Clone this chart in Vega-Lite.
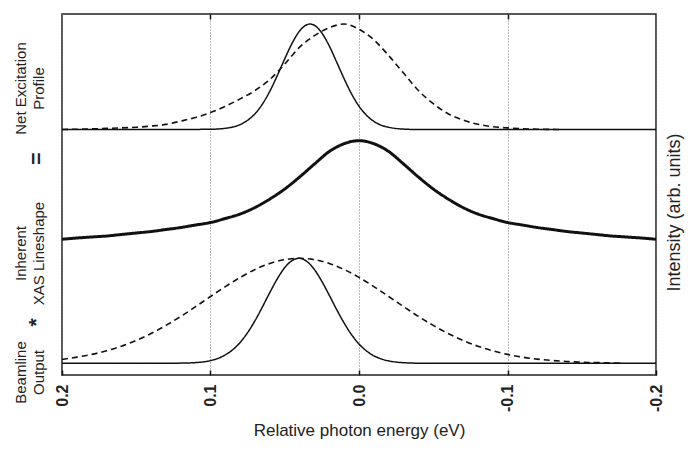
{
  "$schema": "https://vega.github.io/schema/vega-lite/v6.json",
  "width": 594,
  "height": 361,
  "autosize": {"type": "none"},
  "padding": {"left": 62, "top": 14, "right": 32, "bottom": 76},
  "background": "white",
  "config": {
    "font": "Liberation Sans",
    "view": {"stroke": "#222", "strokeWidth": 1.5}
  },
  "data": {
    "values": [
      {"energy": 0.2, "intensity": 245.5, "series": "Net excitation, narrow"},
      {"energy": 0.18, "intensity": 245.5, "series": "Net excitation, narrow"},
      {"energy": 0.16, "intensity": 245.5, "series": "Net excitation, narrow"},
      {"energy": 0.14, "intensity": 245.5, "series": "Net excitation, narrow"},
      {"energy": 0.12, "intensity": 245.5, "series": "Net excitation, narrow"},
      {"energy": 0.11, "intensity": 245.6, "series": "Net excitation, narrow"},
      {"energy": 0.1, "intensity": 245.7, "series": "Net excitation, narrow"},
      {"energy": 0.095, "intensity": 246.0, "series": "Net excitation, narrow"},
      {"energy": 0.09, "intensity": 246.7, "series": "Net excitation, narrow"},
      {"energy": 0.085, "intensity": 248.0, "series": "Net excitation, narrow"},
      {"energy": 0.08, "intensity": 250.4, "series": "Net excitation, narrow"},
      {"energy": 0.075, "intensity": 254.7, "series": "Net excitation, narrow"},
      {"energy": 0.07, "intensity": 261.3, "series": "Net excitation, narrow"},
      {"energy": 0.065, "intensity": 271.0, "series": "Net excitation, narrow"},
      {"energy": 0.06, "intensity": 283.9, "series": "Net excitation, narrow"},
      {"energy": 0.055, "intensity": 299.5, "series": "Net excitation, narrow"},
      {"energy": 0.05, "intensity": 316.2, "series": "Net excitation, narrow"},
      {"energy": 0.045, "intensity": 331.9, "series": "Net excitation, narrow"},
      {"energy": 0.04, "intensity": 344.0, "series": "Net excitation, narrow"},
      {"energy": 0.036, "intensity": 349.6, "series": "Net excitation, narrow"},
      {"energy": 0.033, "intensity": 351.0, "series": "Net excitation, narrow"},
      {"energy": 0.03, "intensity": 349.7, "series": "Net excitation, narrow"},
      {"energy": 0.025, "intensity": 342.0, "series": "Net excitation, narrow"},
      {"energy": 0.02, "intensity": 329.0, "series": "Net excitation, narrow"},
      {"energy": 0.015, "intensity": 312.8, "series": "Net excitation, narrow"},
      {"energy": 0.01, "intensity": 296.2, "series": "Net excitation, narrow"},
      {"energy": 0.005, "intensity": 281.1, "series": "Net excitation, narrow"},
      {"energy": 0.0, "intensity": 268.8, "series": "Net excitation, narrow"},
      {"energy": -0.005, "intensity": 259.8, "series": "Net excitation, narrow"},
      {"energy": -0.01, "intensity": 253.6, "series": "Net excitation, narrow"},
      {"energy": -0.015, "intensity": 249.8, "series": "Net excitation, narrow"},
      {"energy": -0.02, "intensity": 247.7, "series": "Net excitation, narrow"},
      {"energy": -0.025, "intensity": 246.5, "series": "Net excitation, narrow"},
      {"energy": -0.03, "intensity": 245.9, "series": "Net excitation, narrow"},
      {"energy": -0.035, "intensity": 245.6, "series": "Net excitation, narrow"},
      {"energy": -0.04, "intensity": 245.5, "series": "Net excitation, narrow"},
      {"energy": -0.08, "intensity": 245.5, "series": "Net excitation, narrow"},
      {"energy": -0.12, "intensity": 245.5, "series": "Net excitation, narrow"},
      {"energy": -0.16, "intensity": 245.5, "series": "Net excitation, narrow"},
      {"energy": -0.2, "intensity": 245.5, "series": "Net excitation, narrow"},

      {"energy": 0.2, "intensity": 245.5, "series": "Net excitation, broad"},
      {"energy": 0.19, "intensity": 245.8, "series": "Net excitation, broad"},
      {"energy": 0.18, "intensity": 246.1, "series": "Net excitation, broad"},
      {"energy": 0.17, "intensity": 246.6, "series": "Net excitation, broad"},
      {"energy": 0.16, "intensity": 247.1, "series": "Net excitation, broad"},
      {"energy": 0.15, "intensity": 247.8, "series": "Net excitation, broad"},
      {"energy": 0.14, "intensity": 248.9, "series": "Net excitation, broad"},
      {"energy": 0.13, "intensity": 250.6, "series": "Net excitation, broad"},
      {"energy": 0.12, "intensity": 253.9, "series": "Net excitation, broad"},
      {"energy": 0.11, "intensity": 257.6, "series": "Net excitation, broad"},
      {"energy": 0.1, "intensity": 262.4, "series": "Net excitation, broad"},
      {"energy": 0.09, "intensity": 268.7, "series": "Net excitation, broad"},
      {"energy": 0.08, "intensity": 276.1, "series": "Net excitation, broad"},
      {"energy": 0.07, "intensity": 284.5, "series": "Net excitation, broad"},
      {"energy": 0.06, "intensity": 295.6, "series": "Net excitation, broad"},
      {"energy": 0.05, "intensity": 310.9, "series": "Net excitation, broad"},
      {"energy": 0.04, "intensity": 327.8, "series": "Net excitation, broad"},
      {"energy": 0.03, "intensity": 339.4, "series": "Net excitation, broad"},
      {"energy": 0.02, "intensity": 347.3, "series": "Net excitation, broad"},
      {"energy": 0.01, "intensity": 351.0, "series": "Net excitation, broad"},
      {"energy": 0.0, "intensity": 345.7, "series": "Net excitation, broad"},
      {"energy": -0.01, "intensity": 335.2, "series": "Net excitation, broad"},
      {"energy": -0.02, "intensity": 319.4, "series": "Net excitation, broad"},
      {"energy": -0.03, "intensity": 301.9, "series": "Net excitation, broad"},
      {"energy": -0.04, "intensity": 284.5, "series": "Net excitation, broad"},
      {"energy": -0.05, "intensity": 271.3, "series": "Net excitation, broad"},
      {"energy": -0.06, "intensity": 261.3, "series": "Net excitation, broad"},
      {"energy": -0.07, "intensity": 255.0, "series": "Net excitation, broad"},
      {"energy": -0.08, "intensity": 250.8, "series": "Net excitation, broad"},
      {"energy": -0.09, "intensity": 248.3, "series": "Net excitation, broad"},
      {"energy": -0.1, "intensity": 247.1, "series": "Net excitation, broad"},
      {"energy": -0.11, "intensity": 246.2, "series": "Net excitation, broad"},
      {"energy": -0.12, "intensity": 245.8, "series": "Net excitation, broad"},
      {"energy": -0.13, "intensity": 245.6, "series": "Net excitation, broad"},
      {"energy": -0.135, "intensity": 245.5, "series": "Net excitation, broad"},

      {"energy": 0.2, "intensity": 135.7, "series": "Inherent XAS lineshape"},
      {"energy": 0.19, "intensity": 137.0, "series": "Inherent XAS lineshape"},
      {"energy": 0.18, "intensity": 138.0, "series": "Inherent XAS lineshape"},
      {"energy": 0.17, "intensity": 139.0, "series": "Inherent XAS lineshape"},
      {"energy": 0.16, "intensity": 140.5, "series": "Inherent XAS lineshape"},
      {"energy": 0.15, "intensity": 142.0, "series": "Inherent XAS lineshape"},
      {"energy": 0.14, "intensity": 143.5, "series": "Inherent XAS lineshape"},
      {"energy": 0.13, "intensity": 145.5, "series": "Inherent XAS lineshape"},
      {"energy": 0.12, "intensity": 147.5, "series": "Inherent XAS lineshape"},
      {"energy": 0.11, "intensity": 150.0, "series": "Inherent XAS lineshape"},
      {"energy": 0.1, "intensity": 152.5, "series": "Inherent XAS lineshape"},
      {"energy": 0.09, "intensity": 156.5, "series": "Inherent XAS lineshape"},
      {"energy": 0.08, "intensity": 161.0, "series": "Inherent XAS lineshape"},
      {"energy": 0.07, "intensity": 167.5, "series": "Inherent XAS lineshape"},
      {"energy": 0.06, "intensity": 176.0, "series": "Inherent XAS lineshape"},
      {"energy": 0.05, "intensity": 186.0, "series": "Inherent XAS lineshape"},
      {"energy": 0.04, "intensity": 198.0, "series": "Inherent XAS lineshape"},
      {"energy": 0.03, "intensity": 211.0, "series": "Inherent XAS lineshape"},
      {"energy": 0.02, "intensity": 223.5, "series": "Inherent XAS lineshape"},
      {"energy": 0.01, "intensity": 231.3, "series": "Inherent XAS lineshape"},
      {"energy": 0.005, "intensity": 233.5, "series": "Inherent XAS lineshape"},
      {"energy": 0.0, "intensity": 234.3, "series": "Inherent XAS lineshape"},
      {"energy": -0.005, "intensity": 233.5, "series": "Inherent XAS lineshape"},
      {"energy": -0.01, "intensity": 231.3, "series": "Inherent XAS lineshape"},
      {"energy": -0.02, "intensity": 223.5, "series": "Inherent XAS lineshape"},
      {"energy": -0.03, "intensity": 211.0, "series": "Inherent XAS lineshape"},
      {"energy": -0.04, "intensity": 198.0, "series": "Inherent XAS lineshape"},
      {"energy": -0.05, "intensity": 186.0, "series": "Inherent XAS lineshape"},
      {"energy": -0.06, "intensity": 176.0, "series": "Inherent XAS lineshape"},
      {"energy": -0.07, "intensity": 167.5, "series": "Inherent XAS lineshape"},
      {"energy": -0.08, "intensity": 161.0, "series": "Inherent XAS lineshape"},
      {"energy": -0.09, "intensity": 156.5, "series": "Inherent XAS lineshape"},
      {"energy": -0.1, "intensity": 152.5, "series": "Inherent XAS lineshape"},
      {"energy": -0.11, "intensity": 150.0, "series": "Inherent XAS lineshape"},
      {"energy": -0.12, "intensity": 147.5, "series": "Inherent XAS lineshape"},
      {"energy": -0.13, "intensity": 145.5, "series": "Inherent XAS lineshape"},
      {"energy": -0.14, "intensity": 143.5, "series": "Inherent XAS lineshape"},
      {"energy": -0.15, "intensity": 142.0, "series": "Inherent XAS lineshape"},
      {"energy": -0.16, "intensity": 140.5, "series": "Inherent XAS lineshape"},
      {"energy": -0.17, "intensity": 139.0, "series": "Inherent XAS lineshape"},
      {"energy": -0.18, "intensity": 138.0, "series": "Inherent XAS lineshape"},
      {"energy": -0.19, "intensity": 137.0, "series": "Inherent XAS lineshape"},
      {"energy": -0.2, "intensity": 135.7, "series": "Inherent XAS lineshape"},

      {"energy": 0.2, "intensity": 11.7, "series": "Beamline output, narrow"},
      {"energy": 0.16, "intensity": 11.7, "series": "Beamline output, narrow"},
      {"energy": 0.13, "intensity": 11.7, "series": "Beamline output, narrow"},
      {"energy": 0.12, "intensity": 11.9, "series": "Beamline output, narrow"},
      {"energy": 0.11, "intensity": 12.4, "series": "Beamline output, narrow"},
      {"energy": 0.1, "intensity": 14.4, "series": "Beamline output, narrow"},
      {"energy": 0.095, "intensity": 16.6, "series": "Beamline output, narrow"},
      {"energy": 0.09, "intensity": 20.1, "series": "Beamline output, narrow"},
      {"energy": 0.085, "intensity": 25.3, "series": "Beamline output, narrow"},
      {"energy": 0.08, "intensity": 32.6, "series": "Beamline output, narrow"},
      {"energy": 0.075, "intensity": 42.4, "series": "Beamline output, narrow"},
      {"energy": 0.07, "intensity": 54.4, "series": "Beamline output, narrow"},
      {"energy": 0.065, "intensity": 68.2, "series": "Beamline output, narrow"},
      {"energy": 0.06, "intensity": 82.6, "series": "Beamline output, narrow"},
      {"energy": 0.055, "intensity": 96.2, "series": "Beamline output, narrow"},
      {"energy": 0.05, "intensity": 107.4, "series": "Beamline output, narrow"},
      {"energy": 0.045, "intensity": 114.5, "series": "Beamline output, narrow"},
      {"energy": 0.0405, "intensity": 116.7, "series": "Beamline output, narrow"},
      {"energy": 0.035, "intensity": 113.5, "series": "Beamline output, narrow"},
      {"energy": 0.03, "intensity": 105.4, "series": "Beamline output, narrow"},
      {"energy": 0.025, "intensity": 93.6, "series": "Beamline output, narrow"},
      {"energy": 0.02, "intensity": 79.7, "series": "Beamline output, narrow"},
      {"energy": 0.015, "intensity": 65.3, "series": "Beamline output, narrow"},
      {"energy": 0.01, "intensity": 51.9, "series": "Beamline output, narrow"},
      {"energy": 0.005, "intensity": 40.3, "series": "Beamline output, narrow"},
      {"energy": 0.0, "intensity": 31.0, "series": "Beamline output, narrow"},
      {"energy": -0.005, "intensity": 24.1, "series": "Beamline output, narrow"},
      {"energy": -0.01, "intensity": 19.2, "series": "Beamline output, narrow"},
      {"energy": -0.015, "intensity": 16.1, "series": "Beamline output, narrow"},
      {"energy": -0.02, "intensity": 14.1, "series": "Beamline output, narrow"},
      {"energy": -0.025, "intensity": 12.9, "series": "Beamline output, narrow"},
      {"energy": -0.03, "intensity": 12.3, "series": "Beamline output, narrow"},
      {"energy": -0.04, "intensity": 11.8, "series": "Beamline output, narrow"},
      {"energy": -0.05, "intensity": 11.7, "series": "Beamline output, narrow"},
      {"energy": -0.1, "intensity": 11.7, "series": "Beamline output, narrow"},
      {"energy": -0.15, "intensity": 11.7, "series": "Beamline output, narrow"},
      {"energy": -0.2, "intensity": 11.7, "series": "Beamline output, narrow"},

      {"energy": 0.2, "intensity": 15.5, "series": "Beamline output, broad"},
      {"energy": 0.19, "intensity": 17.9, "series": "Beamline output, broad"},
      {"energy": 0.18, "intensity": 20.6, "series": "Beamline output, broad"},
      {"energy": 0.17, "intensity": 24.2, "series": "Beamline output, broad"},
      {"energy": 0.16, "intensity": 28.8, "series": "Beamline output, broad"},
      {"energy": 0.15, "intensity": 34.6, "series": "Beamline output, broad"},
      {"energy": 0.14, "intensity": 41.5, "series": "Beamline output, broad"},
      {"energy": 0.13, "intensity": 49.6, "series": "Beamline output, broad"},
      {"energy": 0.12, "intensity": 58.6, "series": "Beamline output, broad"},
      {"energy": 0.11, "intensity": 68.4, "series": "Beamline output, broad"},
      {"energy": 0.1, "intensity": 78.5, "series": "Beamline output, broad"},
      {"energy": 0.09, "intensity": 88.4, "series": "Beamline output, broad"},
      {"energy": 0.08, "intensity": 97.6, "series": "Beamline output, broad"},
      {"energy": 0.07, "intensity": 105.5, "series": "Beamline output, broad"},
      {"energy": 0.06, "intensity": 111.6, "series": "Beamline output, broad"},
      {"energy": 0.05, "intensity": 115.3, "series": "Beamline output, broad"},
      {"energy": 0.04, "intensity": 116.7, "series": "Beamline output, broad"},
      {"energy": 0.03, "intensity": 115.3, "series": "Beamline output, broad"},
      {"energy": 0.02, "intensity": 111.6, "series": "Beamline output, broad"},
      {"energy": 0.01, "intensity": 105.5, "series": "Beamline output, broad"},
      {"energy": 0.0, "intensity": 97.6, "series": "Beamline output, broad"},
      {"energy": -0.01, "intensity": 88.4, "series": "Beamline output, broad"},
      {"energy": -0.02, "intensity": 78.5, "series": "Beamline output, broad"},
      {"energy": -0.03, "intensity": 68.4, "series": "Beamline output, broad"},
      {"energy": -0.04, "intensity": 58.6, "series": "Beamline output, broad"},
      {"energy": -0.05, "intensity": 49.6, "series": "Beamline output, broad"},
      {"energy": -0.06, "intensity": 41.5, "series": "Beamline output, broad"},
      {"energy": -0.07, "intensity": 34.6, "series": "Beamline output, broad"},
      {"energy": -0.08, "intensity": 28.8, "series": "Beamline output, broad"},
      {"energy": -0.09, "intensity": 24.2, "series": "Beamline output, broad"},
      {"energy": -0.1, "intensity": 20.6, "series": "Beamline output, broad"},
      {"energy": -0.11, "intensity": 17.9, "series": "Beamline output, broad"},
      {"energy": -0.12, "intensity": 15.9, "series": "Beamline output, broad"},
      {"energy": -0.13, "intensity": 14.5, "series": "Beamline output, broad"},
      {"energy": -0.14, "intensity": 13.5, "series": "Beamline output, broad"},
      {"energy": -0.15, "intensity": 12.8, "series": "Beamline output, broad"},
      {"energy": -0.16, "intensity": 12.4, "series": "Beamline output, broad"},
      {"energy": -0.17, "intensity": 12.1, "series": "Beamline output, broad"},
      {"energy": -0.176, "intensity": 12.0, "series": "Beamline output, broad"}
    ]
  },
  "encoding": {
    "strokeDash": {
      "field": "series",
      "type": "nominal",
      "scale": {
        "domain": ["Net excitation, narrow", "Net excitation, broad", "Inherent XAS lineshape", "Beamline output, narrow", "Beamline output, broad"],
        "range": [[1, 0], [6, 4], [1, 0], [1, 0], [6, 4]]
      },
      "legend": null
    },
    "strokeWidth": {
      "field": "series",
      "type": "nominal",
      "scale": {
        "type": "ordinal",
        "domain": ["Net excitation, narrow", "Net excitation, broad", "Inherent XAS lineshape", "Beamline output, narrow", "Beamline output, broad"],
        "range": [1.5, 1.6, 3, 1.5, 1.6]
      },
      "legend": null
    }
  },
  "layer": [
    {
      "transform": [{"filter": "indexof(datum.series, 'Net excitation') < 0"}],
      "mark": {"type": "line", "interpolate": "monotone", "color": "#111"},
      "encoding": {
        "x": {
          "field": "energy",
          "type": "quantitative",
          "scale": {"domain": [-0.2, 0.2], "reverse": true, "nice": false, "zero": false},
          "axis": {
            "orient": "bottom",
            "values": [0.2, 0.1, 0, -0.1, -0.2],
            "labelExpr": "datum.value < 0 ? '-' + format(-datum.value, '.1f') : format(datum.value, '.1f')",
            "labelAngle": 270,
            "labelAlign": "right",
            "labelBaseline": "middle",
            "labelFontSize": 16,
            "labelFontWeight": "bold",
            "labelColor": "#222",
            "labelPadding": 14,
            "labelFlush": false,
            "labelOverlap": false,
            "tickSize": -5,
            "tickColor": "#111",
            "tickWidth": 1.5,
            "domain": false,
            "grid": true,
            "gridColor": "#777",
            "gridDash": [1, 2],
            "gridWidth": 1,
            "title": "Relative photon energy (eV)",
            "titleFontSize": 17,
            "titleFontWeight": "normal",
            "titleColor": "#222",
            "titlePadding": 11
          }
        },
        "y": {
          "field": "intensity",
          "type": "quantitative",
          "scale": {"domain": [0, 361], "nice": false, "zero": false},
          "axis": {
            "orient": "left",
            "values": [287, 217, 122, 53, 3],
            "labelExpr": "datum.value == 287 ? ['Net Excitation', 'Profile'] : datum.value == 217 ? ['', '='] : datum.value == 122 ? ['Inherent', 'XAS Lineshape'] : datum.value == 53 ? ['', '*'] : ['Beamline', 'Output']",
            "labelAngle": 270,
            "labelAlign": "center",
            "labelBaseline": "bottom",
            "labelFontSize": {"condition": {"test": "datum.value == 217 || datum.value == 53", "value": 21}, "value": 15},
            "labelFontWeight": {"condition": {"test": "datum.value == 217 || datum.value == 53", "value": "bold"}, "value": "normal"},
            "labelLineHeight": 18,
            "labelColor": "#222",
            "labelPadding": 34,
            "labelFlush": false,
            "labelOverlap": false,
            "labelBound": false,
            "ticks": false,
            "domain": false,
            "grid": false,
            "title": null
          }
        },
        "detail": {"field": "series"}
      }
    },
    {
      "transform": [{"filter": "indexof(datum.series, 'Net excitation') >= 0"}],
      "mark": {"type": "line", "interpolate": "monotone", "color": "#111"},
      "encoding": {
        "x": {
          "field": "energy",
          "type": "quantitative",
          "axis": {
            "orient": "top",
            "values": [0.1, 0, -0.1],
            "labels": false,
            "tickSize": -5,
            "tickColor": "#111",
            "tickWidth": 1.5,
            "domain": false,
            "grid": false,
            "title": null
          }
        },
        "y": {
          "field": "intensity",
          "type": "quantitative",
          "axis": {
            "orient": "right",
            "labels": false,
            "ticks": false,
            "domain": false,
            "grid": false,
            "title": "Intensity (arb. units)",
            "titleAngle": 270,
            "titleBaseline": "top",
            "titleFontSize": 18,
            "titleFontWeight": "normal",
            "titleColor": "#222",
            "titlePadding": 9,
            "titleY": 198
          }
        },
        "detail": {"field": "series"}
      }
    }
  ],
  "resolve": {"axis": {"x": "independent", "y": "independent"}}
}
